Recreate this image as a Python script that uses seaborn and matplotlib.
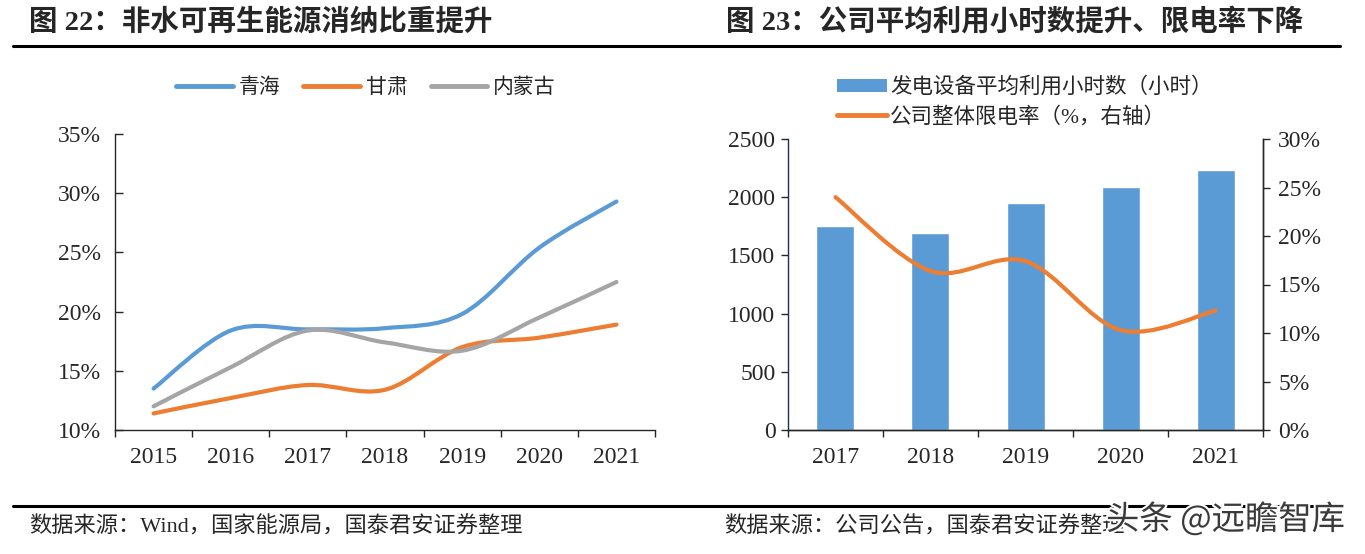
import numpy as np
import pandas as pd
import seaborn as sns
import matplotlib
matplotlib.use("Agg")
import matplotlib.pyplot as plt
from matplotlib.path import Path
from matplotlib.patches import PathPatch, Patch
from matplotlib.lines import Line2D
from matplotlib.ticker import FuncFormatter, FixedLocator
import matplotlib.patheffects as pe

# left chart: share of non-hydro renewables consumed (%)
years_left = ["2015", "2016", "2017", "2018", "2019", "2020", "2021"]
qinghai = [13.5, 18.4, 18.5, 18.6, 19.8, 25.4, 29.3]
gansu = [11.4, 12.7, 13.8, 13.4, 17.0, 17.8, 18.9]
neimenggu = [12.0, 15.3, 18.4, 17.4, 16.7, 19.5, 22.5]
left_names = ["青海", "甘肃", "内蒙古"]

# right chart: utilisation hours and curtailment rate
years_right = ["2017", "2018", "2019", "2020", "2021"]
hours = [1750, 1690, 1950, 2090, 2230]
curtail = [24.0, 16.4, 17.4, 10.3, 12.3]
right_names = ["发电设备平均利用小时数（小时）", "公司整体限电率（%，右轴）"]

BLUE = "#5B9BD5"
ORANGE = "#ED7D31"
GREY = "#A5A5A5"

sns.set_style("ticks")
plt.rcParams["font.family"] = ["Liberation Serif", "Noto Sans CJK SC"]
plt.rcParams["axes.linewidth"] = 1.0

W, H = 1365, 554
fig = plt.figure(figsize=(W / 100, H / 100), dpi=100)


def fx(px):
    return px / W


def fy(py):
    return 1 - py / H


def smooth_path(xs, ys):
    """Excel-like smoothed line: cubic bezier through the data points."""
    pts = np.column_stack([xs, ys]).astype(float)
    pad = np.vstack([pts[0], pts, pts[-1]])
    verts = [pts[0]]
    codes = [Path.MOVETO]
    for i in range(len(pts) - 1):
        p0, p1, p2, p3 = pad[i], pad[i + 1], pad[i + 2], pad[i + 3]
        verts += [p1 + (p2 - p0) / 6, p2 - (p3 - p1) / 6, p2]
        codes += [Path.CURVE4] * 3
    return Path(verts, codes)


def add_smooth(ax, xs, ys, color):
    ax.add_patch(PathPatch(smooth_path(xs, ys), fill=False, edgecolor=color,
                           lw=3.0, capstyle="round", joinstyle="round"))


# ---------------- left chart ----------------
ax1 = fig.add_axes([fx(115), fy(430), fx(655 - 115), (430 - 134) / H])
xl = np.arange(len(years_left))
for vals, col in zip([qinghai, gansu, neimenggu], [BLUE, ORANGE, GREY]):
    add_smooth(ax1, xl, vals, col)
ax1.set_xlim(-0.5, len(years_left) - 0.5)
ax1.set_ylim(10, 35)
ax1.yaxis.set_major_locator(FixedLocator(np.arange(10, 36, 5)))
ax1.yaxis.set_major_formatter(FuncFormatter(lambda v, p: f"{v:.0f}%"))
ax1.xaxis.set_major_locator(FixedLocator(np.arange(-0.5, len(years_left), 1)))
ax1.xaxis.set_minor_locator(FixedLocator(xl))
ax1.set_xticklabels([], minor=False)
ax1.set_xticklabels(years_left, minor=True)
ax1.tick_params(axis="x", which="major", direction="out", length=5, width=1)
ax1.tick_params(axis="x", which="minor", length=0, pad=12, labelsize=17)
ax1.tick_params(axis="y", direction="in", length=6, width=1, pad=10, labelsize=17)
sns.despine(ax=ax1)

handles1 = [Line2D([], [], color=c, lw=3.5, solid_capstyle="round")
            for c in [BLUE, ORANGE, GREY]]
fig.legend(handles1, left_names, loc="center", ncol=3, frameon=False,
           bbox_to_anchor=(fx(366), fy(88)), fontsize=15, handlelength=2.7,
           handletextpad=0.3, columnspacing=1.1)

# ---------------- right chart ----------------
ax2 = fig.add_axes([fx(788), fy(430), fx(1263 - 788), (430 - 139) / H])
df_hours = pd.DataFrame({"year": years_right, "hours": hours})
sns.barplot(data=df_hours, x="year", y="hours", color=BLUE, saturation=1,
            width=0.4, ax=ax2)
ax2.set_xlabel("")
ax2.set_ylabel("")
ax2.set_xlim(-0.5, len(years_right) - 0.5)
ax2.set_ylim(0, 2500)
ax2.yaxis.set_major_locator(FixedLocator(np.arange(0, 2501, 500)))
xr = np.arange(len(years_right))
ax2.xaxis.set_major_locator(FixedLocator(np.arange(-0.5, len(years_right), 1)))
ax2.xaxis.set_minor_locator(FixedLocator(xr))
ax2.set_xticklabels([], minor=False)
ax2.set_xticklabels(years_right, minor=True)
ax2.tick_params(axis="x", which="major", direction="out", length=5, width=1)
ax2.tick_params(axis="x", which="minor", length=0, pad=12, labelsize=17)
ax2.tick_params(axis="y", direction="out", length=5, width=1, pad=4, labelsize=17)
ax2.spines["left"].set_color("#1F2D5A")
ax2.spines["top"].set_visible(False)

ax3 = ax2.twinx()
add_smooth(ax3, xr, curtail, ORANGE)
ax3.set_ylim(0, 30)
ax3.yaxis.set_major_locator(FixedLocator(np.arange(0, 31, 5)))
ax3.yaxis.set_major_formatter(FuncFormatter(lambda v, p: f"{v:.0f}%"))
ax3.tick_params(axis="y", direction="out", length=5, width=1, pad=6, labelsize=17)
ax3.spines["top"].set_visible(False)
ax3.spines["left"].set_visible(False)

handles2 = [Patch(facecolor=BLUE, edgecolor="none"),
            Line2D([], [], color=ORANGE, lw=3.5)]
fig.legend(handles2, right_names, loc="upper left", frameon=False,
           bbox_to_anchor=(fx(818), fy(58)), fontsize=15.5, handlelength=2.3,
           handleheight=0.6, handletextpad=0.15, labelspacing=0.4)

# ---------------- titles, rules, sources ----------------
title_font = dict(fontsize=20.5, fontweight="bold", va="center", ha="left")
fig.text(fx(29), fy(22), "图 22：非水可再生能源消纳比重提升", **title_font)
fig.text(fx(726), fy(22), "图 23：公司平均利用小时数提升、限电率下降", **title_font)
fig.add_artist(Line2D([fx(13), fx(1340)], [fy(46), fy(46)], color="black", lw=2.2))
fig.add_artist(Line2D([fx(13), fx(1340)], [fy(506), fy(506)], color="black", lw=2.2))

src_font = dict(fontsize=16, va="center", ha="left")
fig.text(fx(29), fy(527), "数据来源：Wind，国家能源局，国泰君安证券整理", **src_font)
fig.text(fx(724), fy(527), "数据来源：公司公告，国泰君安证券整理", **src_font)

fig.text(fx(1106), fy(520), "头条 @远瞻智库", fontsize=24, color="#3A3A3A",
         family=["Noto Sans CJK SC", "DejaVu Sans"], va="center", ha="left",
         path_effects=[pe.withStroke(linewidth=3, foreground="white")])

fig.savefig("out.png", dpi=100)
